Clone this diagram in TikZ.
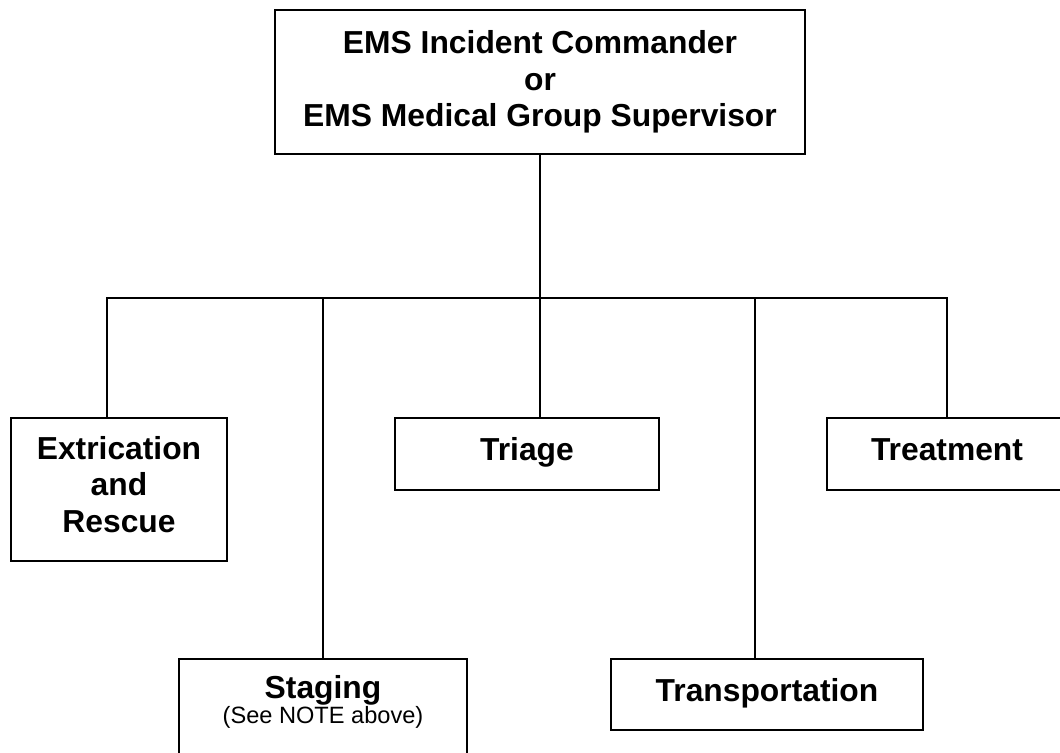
\documentclass[tikz,border=0pt]{standalone}
\usepackage{fontspec}
\setmainfont{Liberation Sans}
\usetikzlibrary{positioning,calc}

\begin{document}
\begin{tikzpicture}[x=0.5pt, y=-0.5pt,
    box/.style={draw, line width=1.1pt, inner sep=0pt, font=\fontsize{15.9}{18.25}\selectfont\bfseries},
    block/.style={box, align=center},
    single/.style={block, text height=11.5pt, text depth=5pt},
    link/.style={line width=1.1pt}]

        \useasboundingbox (0,0) rectangle (1060,752);
        \clip (0,0) rectangle (1060,752);

        % Commander
        \node [block, minimum width=265pt, minimum height=72pt] (cmd) at (540,82) {EMS Incident Commander\\or\\EMS Medical Group Supervisor};

        % Sections
        \node [box, minimum width=108pt, minimum height=71.5pt] (extr) at (119,489.5) {\parbox[c][71.5pt][t]{108pt}{\centering\rule{0pt}{20.5pt}Extrication\\and\\Rescue}};
        \node [single, minimum width=132pt, minimum height=36pt] (triage) at (527,454) {Triage};
        \node [single, minimum width=120pt, minimum height=36pt] (treat) at (947,454) {Treatment};
        \node [single, minimum width=156pt, minimum height=35.5pt] (transp) at (767,694.5) {Transportation};
        \node [box, minimum width=144pt, minimum height=60pt] (stag) at (323,719) {\parbox[c][60pt][t]{144pt}{\parindent=0pt\centering\rule{0pt}{19.5pt}Staging\par
            \fontsize{11.8}{12.5}\selectfont\mdseries (See NOTE above)\par}};

        % Junctions on the bus
        \coordinate (jE) at (107,298);
        \coordinate (jS) at (323,298);
        \coordinate (jT) at (540,298);
        \coordinate (jP) at (755,298);
        \coordinate (jR) at (947,298);

        % Lines
        \draw [link] (cmd.south) -- (jT) -- (jT |- triage.north);
        \draw [link] (jE |- extr.north) -- (jE) -- (jR) -- (jR |- treat.north);
        \draw [link] (jS) -- (stag.north);
        \draw [link] (jP) -- (jP |- transp.north);

    \end{tikzpicture}
\end{document}
